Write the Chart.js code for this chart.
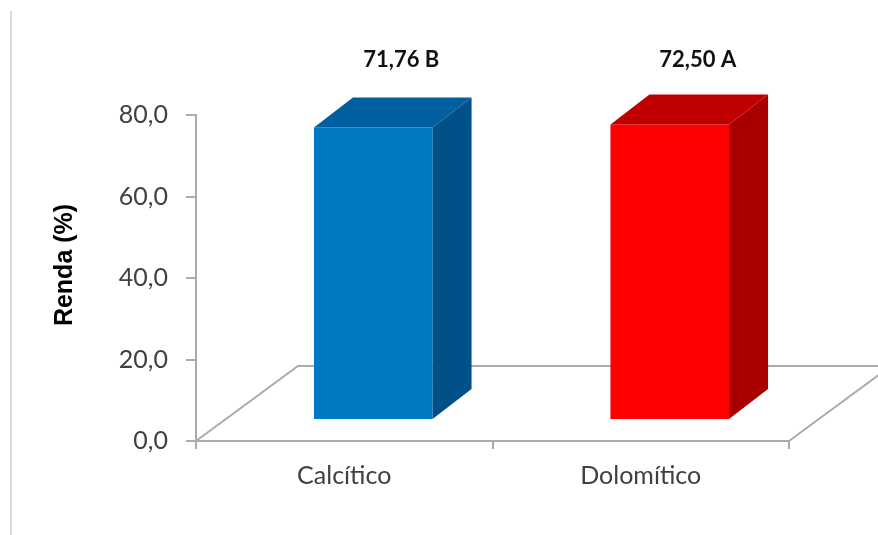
<!DOCTYPE html>
<html>
<head>
<meta charset="utf-8">
<script src="https://cdn.jsdelivr.net/npm/chart.js@4/dist/chart.umd.min.js"></script>
<style>
  html, body { margin: 0; padding: 0; background: #fff; }
</style>
</head>
<body>
<canvas id="chart" width="878" height="535"></canvas>
<script>
const categories = ['Calcítico', 'Dolomítico'];
const renda = [71.76, 72.50];
const letters = ['B', 'A'];
const yTicks = [0, 20, 40, 60, 80];

const frontColors = ['#0079c4', '#ff0000'];
const topColors = ['#00609f', '#c00000'];
const sideColors = ['#005189', '#a80000'];

// 3D look: floor depth, bar offset into the floor, bar depth
const FLOOR = { dx: 102, dy: -75 };
const SHIFT = { dx: 29, dy: -21 };
const DEPTH = { dx: 39, dy: -30 };
const AXIS_GRAY = '#ababab';

const fakeBox = {
  id: 'fakeBox',
  beforeDraw(chart) {
    const ctx = chart.ctx;
    ctx.save();
    ctx.strokeStyle = '#d9d9d9';
    ctx.lineWidth = 2;
    ctx.beginPath();
    ctx.moveTo(11, 11);
    ctx.lineTo(11, chart.height);
    ctx.stroke();
    ctx.restore();
  },
  beforeDatasetsDraw(chart) {
    const { ctx, chartArea: a } = chart;
    ctx.save();
    ctx.strokeStyle = AXIS_GRAY;
    ctx.lineWidth = 2;
    ctx.beginPath();
    ctx.moveTo(a.left, a.bottom);
    ctx.lineTo(a.left + FLOOR.dx, a.bottom + FLOOR.dy);
    ctx.lineTo(a.right + FLOOR.dx, a.bottom + FLOOR.dy);
    ctx.moveTo(a.right, a.bottom);
    ctx.lineTo(a.right + FLOOR.dx, a.bottom + FLOOR.dy);
    ctx.stroke();
    ctx.restore();
    // bars get pushed back into the floor
    ctx.save();
    ctx.translate(SHIFT.dx, SHIFT.dy);
  },
  afterDatasetsDraw(chart) {
    const ctx = chart.ctx;
    ctx.restore();
    const a = chart.chartArea;
    const meta = chart.getDatasetMeta(0);
    ctx.save();
    meta.data.forEach((bar, i) => {
      const p = bar.getProps(['x', 'y', 'base', 'width'], true);
      const L = p.x - p.width / 2 + SHIFT.dx;
      const R = p.x + p.width / 2 + SHIFT.dx;
      const T = p.y + SHIFT.dy;
      const B = p.base + SHIFT.dy;

      ctx.fillStyle = topColors[i];
      ctx.beginPath();
      ctx.moveTo(L, T);
      ctx.lineTo(L + DEPTH.dx, T + DEPTH.dy);
      ctx.lineTo(R + DEPTH.dx, T + DEPTH.dy);
      ctx.lineTo(R, T);
      ctx.closePath();
      ctx.fill();

      ctx.fillStyle = sideColors[i];
      ctx.beginPath();
      ctx.moveTo(R, T);
      ctx.lineTo(R + DEPTH.dx, T + DEPTH.dy);
      ctx.lineTo(R + DEPTH.dx, B + DEPTH.dy);
      ctx.lineTo(R, B);
      ctx.closePath();
      ctx.fill();

      ctx.fillStyle = '#111';
      ctx.font = 'bold 22px Lato';
      ctx.textAlign = 'center';
      ctx.textBaseline = 'middle';
      const txt = renda[i].toFixed(2).replace('.', ',') + ' ' + letters[i];
      ctx.fillText(txt, (L + R) / 2 + 28, a.top - 55);
    });
    ctx.restore();
  },
  afterDraw(chart) {
    const { ctx, chartArea: a } = chart;
    ctx.save();
    ctx.translate(65, (a.top + a.bottom) / 2 - 13);
    ctx.rotate(-Math.PI / 2);
    ctx.font = 'bold 25px "Liberation Sans"';
    ctx.fillStyle = '#000';
    ctx.textAlign = 'center';
    ctx.textBaseline = 'middle';
    ctx.fillText('Renda (%)', 0, 0);
    ctx.restore();
  }
};

new Chart(document.getElementById('chart'), {
  type: 'bar',
  data: {
    labels: categories,
    datasets: [{
      data: renda,
      backgroundColor: frontColors,
      borderWidth: 0,
      categoryPercentage: 1,
      barPercentage: 0.4
    }]
  },
  options: {
    responsive: false,
    animation: false,
    layout: { padding: { top: 115, right: 89, bottom: 34, left: 0 } },
    plugins: { legend: { display: false }, tooltip: { enabled: false } },
    scales: {
      x: {
        afterFit: s => { s.height = 60; },
        border: { display: true, color: AXIS_GRAY, width: 2 },
        grid: { drawOnChartArea: false, color: AXIS_GRAY, lineWidth: 2, tickLength: 8 },
        ticks: { color: '#404040', font: { family: 'Lato', size: 25 }, padding: 12 }
      },
      y: {
        min: 0,
        max: 80,
        afterFit: s => { s.width = 196; },
        afterBuildTicks: s => { s.ticks = yTicks.map(v => ({ value: v })); },
        border: { display: true, color: AXIS_GRAY, width: 2 },
        grid: { drawOnChartArea: false, color: AXIS_GRAY, lineWidth: 2, tickLength: 10 },
        ticks: {
          color: '#404040',
          font: { family: 'Lato', size: 25 },
          padding: 18,
          callback: v => v.toFixed(1).replace('.', ',')
        }
      }
    }
  },
  plugins: [fakeBox]
});
</script>
</body>
</html>
